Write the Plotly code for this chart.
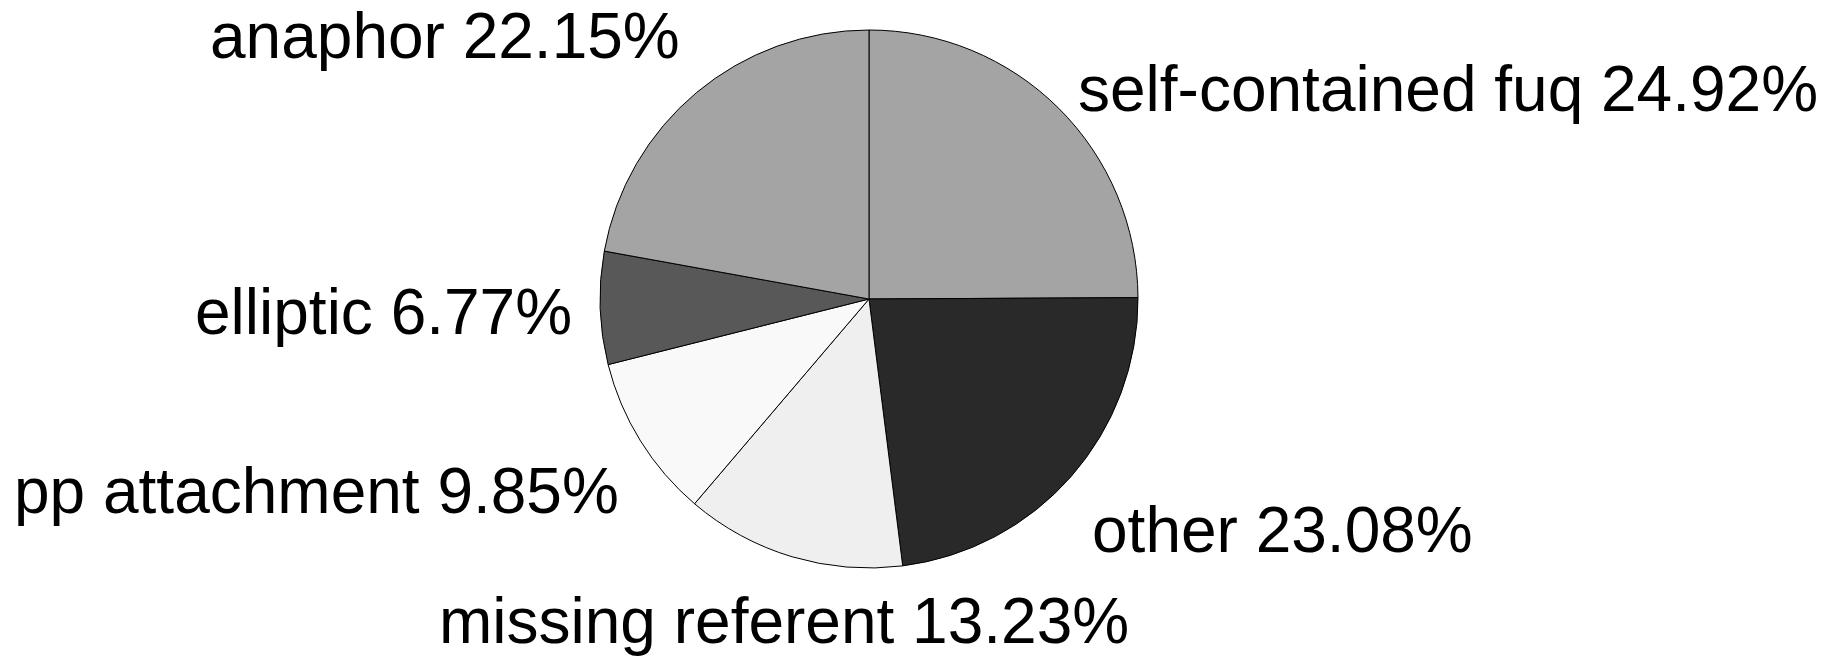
import plotly.graph_objects as go

categories = ["self-contained fuq", "other", "missing referent", "pp attachment", "elliptic", "anaphor"]
values = [24.92, 23.08, 13.23, 9.85, 6.77, 22.15]
colors = ["#a4a4a4", "#292929", "#efefef", "#f9f9f9", "#585858", "#a4a4a4"]

W, H = 1833, 657
cx, cy, r = 861, 291, 269
FONT = "Liberation Sans, Arial, sans-serif"
FS = 64

# label anchor positions in pixels (right edge, baseline), layout only
label_pos = [(1811, 103), (1466, 544), (1122, 635), (612, 505), (565, 326), (673, 50)]

fig = go.Figure(go.Pie(
    labels=categories,
    values=values,
    sort=False,
    direction="clockwise",
    rotation=0,
    marker=dict(colors=colors, line=dict(color="#000000", width=1)),
    textinfo="none",
    automargin=False,
    showlegend=False,
    hoverinfo="label+percent",
    domain=dict(x=[(cx - r) / W, (cx + r) / W], y=[1 - (cy + r) / H, 1 - (cy - r) / H]),
))

total = sum(values)
for name, v, (px, py) in zip(categories, values, label_pos):
    fig.add_annotation(
        x=px / W, y=1 - (py - 0.35 * FS) / H,
        xref="paper", yref="paper",
        xanchor="right", yanchor="middle",
        text=f"{name} {100 * v / total:.2f}%",
        showarrow=False,
        borderpad=0,
        font=dict(family=FONT, size=FS, color="#000000"),
    )

fig.update_layout(
    width=W, height=H,
    margin=dict(l=0, r=0, t=0, b=0),
    paper_bgcolor="#ffffff",
    plot_bgcolor="#ffffff",
    font=dict(family=FONT, size=FS, color="#000000"),
)

fig.write_html("out.html")
